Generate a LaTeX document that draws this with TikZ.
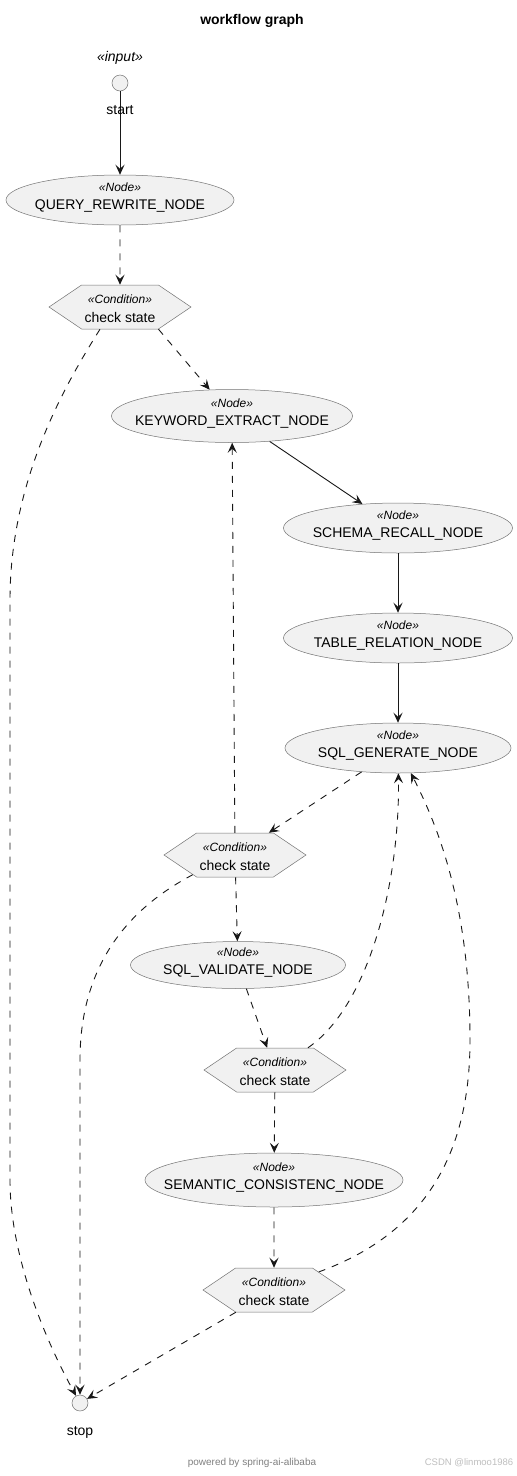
\documentclass[tikz,border=0pt]{standalone}
\usepackage{fontspec}
\setmainfont{Liberation Sans}
\usetikzlibrary{shapes.geometric,shapes.symbols,arrows.meta}
\definecolor{nodefill}{HTML}{F1F1F1}
\definecolor{edgecol}{HTML}{181818}
\newcommand{\stereo}[1]{{\fontsize{12}{18}\itshape\selectfont «#1»}}

\begin{document}
\begin{tikzpicture}[x=1pt,y=-1pt]
    \tikzstyle{every node}=[font={\fontsize{14}{18.5}\selectfont}]
    \tikzstyle{wfnode}=[ellipse, draw=black!55, line width=0.5pt, fill=nodefill, align=center, inner xsep=-30pt, inner ysep=-6pt, text depth=8pt, minimum height=50pt]
    \tikzstyle{cond}=[signal, signal to=east and west, signal pointer angle=68, draw=black!55, line width=0.5pt, fill=nodefill, align=center, minimum width=142pt, minimum height=44pt, inner sep=0pt, text height=31pt]
    \tikzstyle{term}=[circle, draw=black!55, line width=0.5pt, fill=nodefill, minimum size=16pt, inner sep=0pt]
    \tikzstyle{flow}=[draw=edgecol, line width=0.9pt, -{Stealth[length=10pt,width=9pt,inset=4pt]}]
    \tikzstyle{cflow}=[flow, dash pattern=on 7pt off 7pt]

    \fill[white] (0,0) rectangle (517,1476);
    \node[font={\fontsize{14}{17}\bfseries\selectfont}] (title) at (252,21) {workflow graph};

    \node[font={\fontsize{14}{17}\itshape\selectfont}] (input) at (120,58) {«input»};
    \node[term] (start) at (120,83) {};
    \node[wfnode, minimum width=228pt] (query) at (120,200) {\stereo{Node}\\QUERY\_REWRITE\_NODE};
    \node[cond] (c1) at (120,307) {\stereo{Condition}\\check state};
    \node[wfnode, minimum width=241pt, minimum height=53pt] (kw) at (232,416) {\stereo{Node}\\KEYWORD\_EXTRACT\_NODE};
    \node[wfnode, minimum width=229pt] (schema) at (398,528) {\stereo{Node}\\SCHEMA\_RECALL\_NODE};
    \node[wfnode, minimum width=229pt] (table) at (398,638) {\stereo{Node}\\TABLE\_RELATION\_NODE};
    \node[wfnode, minimum width=226pt] (gen) at (398,748) {\stereo{Node}\\SQL\_GENERATE\_NODE};
    \node[cond] (c2) at (235,855) {\stereo{Condition}\\check state};
    \node[wfnode, minimum width=215pt, minimum height=47pt] (val) at (238,965) {\stereo{Node}\\SQL\_VALIDATE\_NODE};
    \node[cond] (c3) at (275,1070) {\stereo{Condition}\\check state};
    \node[wfnode, minimum width=258pt, minimum height=54pt] (sem) at (274,1180) {\stereo{Node}\\SEMANTIC\_CONSISTENC\_NODE};
    \node[cond] (c4) at (274,1290) {\stereo{Condition}\\check state};
    \node[term] (stop) at (80,1403) {};

    \draw[flow] (start) -- (query);
    \node (startlbl) at (120,110) {start};
    \node (stoplbl) at (80,1432) {stop};

    \draw[cflow] (query) -- (c1);
    \draw[cflow] (c1.-30) -- (kw);
    \draw[cflow] (c1.-132) .. controls (65,385) and (10,480) .. (10,600) -- (10,1180) .. controls (10,1250) and (40,1330) .. (stop);
    \draw[flow] (kw) -- (schema);
    \draw[flow] (schema) -- (table);
    \draw[flow] (table) -- (gen);
    \draw[cflow] (gen) -- (c2);
    \draw[cflow] (c2) -- (kw);
    \draw[cflow] (c2) -- (val);
    \draw[cflow] (c2.-155) .. controls (145,900) and (80,950) .. (80,1060) -- (stop);
    \draw[cflow] (val) -- (c3);
    \draw[cflow] (c3.34) .. controls (370,1005) and (400,880) .. (gen);
    \draw[cflow] (c3) -- (sem);
    \draw[cflow] (sem) -- (c4);
    \draw[cflow] (c4.22) .. controls (420,1235) and (470,1160) .. (470,1040) .. controls (470,910) and (440,830) .. (gen);
    \draw[cflow] (c4) -- (stop);

    \node[font={\fontsize{10}{12}\selectfont}, text=black!50] (powered) at (252,1463) {powered by spring-ai-alibaba};
    \node[font={\fontsize{9.5}{12}\selectfont}, text=black!25] (mark) at (469,1463) {CSDN @linmoo1986};
\end{tikzpicture}
\end{document}
